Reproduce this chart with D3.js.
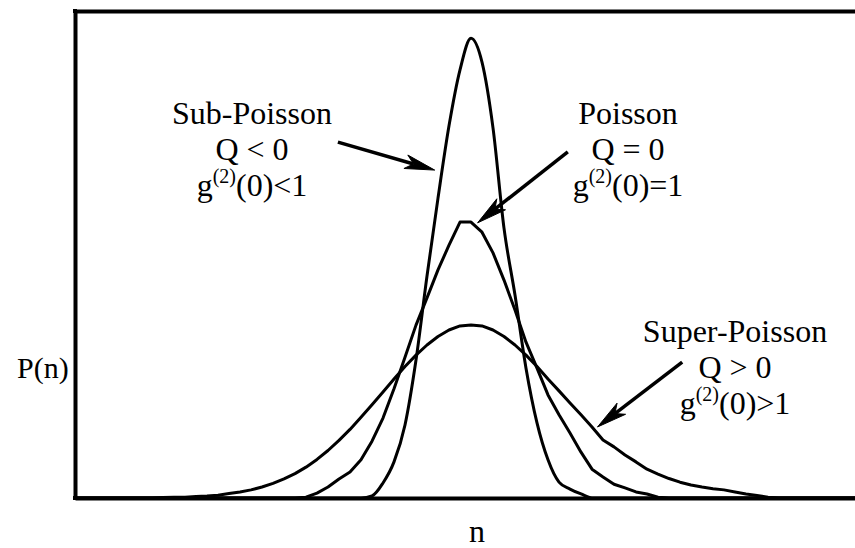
<!DOCTYPE html>
<html>
<head>
<meta charset="utf-8">
<script src="https://cdn.jsdelivr.net/npm/d3@7/dist/d3.min.js"></script>
<style>
  html, body { margin: 0; padding: 0; background: #fff; }
  svg { display: block; }
  text { font-family: "Liberation Serif", "Times New Roman", serif; fill: #000; }
</style>
</head>
<body>
<svg id="chart" width="855" height="548"></svg>
<script>
// Photon number n (discrete)
const nValues = [0,1,2,3,4,5,6,7,8,9,10,11,12,13,14,15,16,17,18,19,20,21,22,23,24,25,26,27,28,29,30,31,32,33,34,35,
  36,37,38,39,40,41,42,43,44,45,46,47,48,49,50,51,52,53,54,55,56,57,58,59,60,61,62,63,64,65,66,67,68,69,70,71];

// P(n) for the sub-Poissonian distribution (Q < 0)
const subPoisson = [0,0,0,0,0,0,0,0,0,0,0,0,0,0,0,0,0,0,0,0,0,0,0,0,0,0,0,
  0.0005,0.0037,0.0089,0.0180,0.0340,0.0547,0.0739,0.0917,0.1055,0.1133,0.1074,0.0912,0.0665,0.0500,
  0.0320,0.0185,0.0094,0.0039,0.0022,0.0010,
  0,0,0,0,0,0,0,0,0,0,0,0,0,0,0,0,0,0,0,0,0,0,0,0,0];

// P(n) for the Poisson distribution (Q = 0)
const poisson = [0,0,0,0,0,0,0,0,0,0,0,0,0,0,0,0,0,0,0,0,0,
  0.0002,0.0012,0.0027,0.0047,0.0064,0.0094,0.0140,0.0197,0.0269,0.0347,0.0426,0.0493,0.0562,0.0623,
  0.0680,0.0680,0.0655,0.0604,0.0537,0.0463,0.0384,0.0320,0.0254,0.0205,0.0160,0.0113,0.0071,0.0052,
  0.0034,0.0025,0.0015,0.0010,0.0002,
  0,0,0,0,0,0,0,0,0,0,0,0,0,0,0,0,0,0];

// P(n) for the super-Poissonian distribution (Q > 0)
const superPoisson = [0,0,0,0,0,0,0,0,
  0.0001,0.0002,0.0002,0.0004,0.0005,0.0007,0.0011,0.0015,0.0020,0.0027,0.0036,0.0047,0.0060,0.0076,
  0.0095,0.0117,0.0142,0.0169,0.0199,0.0230,0.0261,0.0293,0.0324,0.0352,0.0377,0.0398,0.0414,0.0424,
  0.0426,0.0424,0.0414,0.0398,0.0377,0.0352,0.0324,0.0293,0.0264,0.0234,0.0205,0.0175,0.0143,0.0126,
  0.0106,0.0089,0.0071,0.0059,0.0048,0.0039,0.0032,0.0027,0.0023,0.0020,0.0015,0.0010,0.0006,0.0002,
  0,0,0,0,0,0,0,0];

// Annotation labels (text lines; the last line carries g^(2)(0))
const labelSub   = ["Sub-Poisson", "Q < 0", ["g", "(2)", "(0)<1"]];
const labelPois  = ["Poisson", "Q = 0", ["g", "(2)", "(0)=1"]];
const labelSuper = ["Super-Poisson", "Q > 0", ["g", "(2)", "(0)>1"]];

// Arrow endpoints in data units: [nFrom, pFrom, nTo, pTo]
const arrowSub   = [23.9, 0.0877, 32.7, 0.0808];
const arrowPois  = [44.8, 0.0853, 36.6, 0.0678];
const arrowSuper = [55.2, 0.0335, 47.5, 0.0175];

const axisLabelX = "n";
const axisLabelY = "P(n)";

const svg = d3.select("#chart");
const W = 855, H = 548;
svg.append("rect").attr("width", W).attr("height", H).attr("fill", "#fff");

const plotLeft = 75, plotTop = 11, plotBottom = 498, plotRight = 856;

const x = d3.scaleLinear().domain([0, 71]).range([plotLeft, plotRight]);
const y = d3.scaleLinear().domain([0, 0.12]).range([plotBottom, plotTop]);

// Curves: straight segments between the discrete points; the narrow peak is smoothed
const lineFor = curve => d3.line()
  .x((d, i) => x(nValues[i]))
  .y(d => y(d))
  .curve(curve);

const curves = svg.append("g")
  .attr("fill", "none")
  .attr("stroke", "#000")
  .attr("stroke-width", 3)
  .attr("stroke-linejoin", "round")
  .attr("stroke-linecap", "round");

curves.append("path").attr("d", lineFor(d3.curveLinear)(superPoisson));
curves.append("path").attr("d", lineFor(d3.curveLinear)(poisson));
curves.append("path").attr("d", lineFor(d3.curveMonotoneX)(subPoisson));

// Frame: left, top and bottom axis lines without ticks
function styleAxis(g) {
  g.selectAll(".tick").remove();
  g.select(".domain").attr("stroke", "#000").attr("stroke-width", 4);
}
svg.append("g").attr("transform", `translate(0,${plotBottom})`)
  .call(d3.axisBottom(x).ticks(0).tickSizeOuter(0)).call(styleAxis);
svg.append("g").attr("transform", `translate(0,${plotTop})`)
  .call(d3.axisTop(x).ticks(0).tickSizeOuter(0)).call(styleAxis);
svg.append("g").attr("transform", `translate(${plotLeft},0)`)
  .call(d3.axisLeft(y).ticks(0).tickSizeOuter(0)).call(styleAxis);
svg.append("rect").attr("x", plotLeft - 2).attr("y", plotTop - 2).attr("width", 4).attr("height", 4).attr("fill", "#000");
svg.append("rect").attr("x", plotLeft - 2).attr("y", plotBottom - 2).attr("width", 4).attr("height", 4).attr("fill", "#000");

// Arrows with barbed heads
function drawArrow(a) {
  const x1 = x(a[0]), y1 = y(a[1]), x2 = x(a[2]), y2 = y(a[3]);
  const ang = Math.atan2(y2 - y1, x2 - x1);
  const L = 30, w = 7, notch = 22;
  const g = svg.append("g");
  const ex = x2 - Math.cos(ang) * notch, ey = y2 - Math.sin(ang) * notch;
  g.append("line")
    .attr("x1", x1).attr("y1", y1).attr("x2", ex).attr("y2", ey)
    .attr("stroke", "#000").attr("stroke-width", 3.5);
  const pts = [[0, 0], [-L, w], [-notch, 0], [-L, -w]].map(([px, py]) => [
    x2 + px * Math.cos(ang) - py * Math.sin(ang),
    y2 + px * Math.sin(ang) + py * Math.cos(ang)
  ]);
  g.append("path").attr("d", "M" + pts.join("L") + "Z").attr("fill", "#000")
    .attr("stroke", "#000").attr("stroke-width", 1).attr("stroke-linejoin", "miter");
}
[arrowSub, arrowPois, arrowSuper].forEach(drawArrow);

// Labels
const fs = 32, supFs = 20, lh = 36;
function drawLabel(lines, cx, y0) {
  lines.forEach((ln, i) => {
    const t = svg.append("text")
      .attr("x", cx).attr("y", y0 + i * lh)
      .attr("text-anchor", "middle")
      .attr("font-size", fs);
    if (typeof ln === "string") {
      t.text(ln);
    } else {
      t.append("tspan").text(ln[0]);
      t.append("tspan").attr("font-size", supFs).attr("dy", -13).text(ln[1]);
      t.append("tspan").attr("dy", 13).text(ln[2]);
    }
  });
}
drawLabel(labelSub, 252, 124);
drawLabel(labelPois, 628, 124);
drawLabel(labelSuper, 735, 342);

// Axis titles
svg.append("text").attr("x", 17).attr("y", 378).attr("font-size", 30).text(axisLabelY);
svg.append("text").attr("x", 477).attr("y", 542).attr("text-anchor", "middle").attr("font-size", fs).text(axisLabelX);
</script>
</body>
</html>
